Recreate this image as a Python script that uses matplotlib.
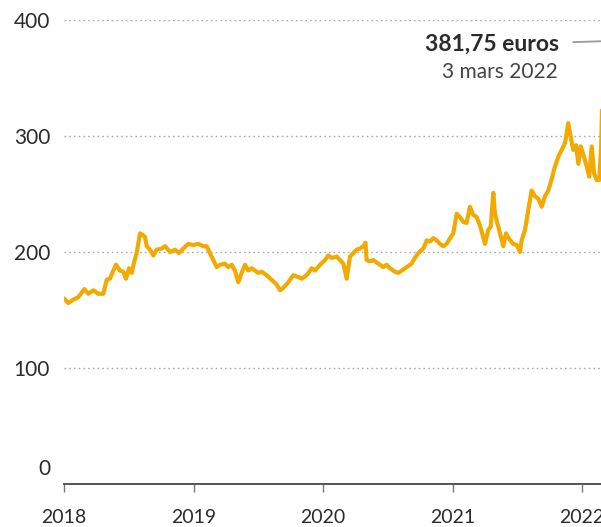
import matplotlib
matplotlib.use("Agg")
import matplotlib.pyplot as plt
import matplotlib.transforms as mtransforms
from matplotlib.ticker import FixedLocator

# Decimal-year dates and prices (euros per tonne)
dates = [
    2018.000, 2018.033, 2018.072, 2018.110, 2018.157, 2018.188, 2018.226, 2018.265,
    2018.303, 2018.330, 2018.355, 2018.381, 2018.402, 2018.432, 2018.458, 2018.479,
    2018.502, 2018.523, 2018.543, 2018.561, 2018.587, 2018.605, 2018.625, 2018.639,
    2018.664, 2018.690, 2018.716, 2018.754, 2018.780, 2018.819, 2018.857, 2018.888,
    2018.921, 2018.960, 2018.998, 2019.037, 2019.076, 2019.102, 2019.127, 2019.153,
    2019.179, 2019.205, 2019.243, 2019.269, 2019.295, 2019.320, 2019.346, 2019.372,
    2019.398, 2019.423, 2019.449, 2019.475, 2019.500, 2019.527, 2019.565, 2019.604,
    2019.642, 2019.668, 2019.693, 2019.732, 2019.771, 2019.797, 2019.835, 2019.874,
    2019.913, 2019.938, 2019.977, 2020.015, 2020.041, 2020.067, 2020.106, 2020.131,
    2020.157, 2020.183, 2020.208, 2020.234, 2020.260, 2020.286, 2020.311, 2020.328,
    2020.337, 2020.363, 2020.388, 2020.427, 2020.466, 2020.492, 2020.517, 2020.556,
    2020.581, 2020.608, 2020.646, 2020.685, 2020.710, 2020.736, 2020.775, 2020.801,
    2020.826, 2020.852, 2020.878, 2020.903, 2020.929, 2020.955, 2020.981, 2021.006,
    2021.032, 2021.058, 2021.083, 2021.109, 2021.135, 2021.160, 2021.187, 2021.212,
    2021.251, 2021.276, 2021.295, 2021.315, 2021.328, 2021.346, 2021.367, 2021.392,
    2021.413, 2021.439, 2021.469, 2021.496, 2021.521, 2021.534, 2021.560, 2021.585,
    2021.611, 2021.637, 2021.662, 2021.689, 2021.714, 2021.740, 2021.766, 2021.792,
    2021.817, 2021.843, 2021.869, 2021.894, 2021.913, 2021.933, 2021.954, 2021.972,
    2021.990, 2022.015, 2022.036, 2022.056, 2022.075, 2022.093, 2022.113, 2022.133,
    2022.148, 2022.158, 2022.168,
]
prices = [
    160, 156, 159, 161, 168, 164, 167, 164,
    164, 176, 177, 184, 189, 184, 183, 177,
    186, 182, 192, 199, 216, 215, 213, 205,
    202, 197, 202, 203, 205, 200, 202, 199,
    203, 207, 206, 207, 205, 205, 199, 193,
    187, 189, 190, 187, 189, 184, 174, 182,
    189, 184, 186, 184, 182, 183, 180, 176,
    172, 167, 169, 174, 180, 179, 177, 180,
    186, 184, 189, 193, 197, 195, 196, 193,
    190, 177, 196, 199, 202, 203, 205, 208,
    193, 192, 193, 190, 187, 189, 186, 183,
    182, 184, 187, 190, 195, 199, 203, 210,
    209, 212, 210, 207, 205, 207, 212, 216,
    233, 230, 226, 225, 239, 232, 230, 223,
    207, 219, 222, 251, 233, 225, 216, 205,
    216, 211, 207, 206, 200, 210, 219, 236,
    253, 248, 246, 239, 248, 253, 263, 274,
    282, 288, 294, 311, 299, 288, 292, 276,
    291, 282, 274, 265, 291, 268, 262, 262,
    290, 340, 381.75,
]

year_ticks = [2018, 2019, 2020, 2021, 2022]
year_labels = ["2018", "2019", "2020", "2021", "2022"]
value_ticks = [0, 100, 200, 300, 400]
value_labels = ["0", "100", "200", "300", "400"]
last_label = "381,75 euros"
last_date_label = "3 mars 2022"

LINE = "#F2A900"
TEXT = "#2b2b2b"

plt.rcParams["font.family"] = ["Lato", "DejaVu Sans"]

fig = plt.figure(figsize=(6.01, 5.27), dpi=100)
W, H = 601, 527
x0, x1 = 2018.0, 2022.5
px_per_year = 129.5
left = 64 / W
width = (x1 - x0) * px_per_year / W
bottom = (H - 484) / H
top = (H - 20) / H
ax = fig.add_axes([left, bottom, width, top - bottom])
ax.set_xlim(x0, x1)
ax.set_ylim(0, 400)

ax.plot(dates, prices, color=LINE, lw=3.0, solid_joinstyle="round",
        solid_capstyle="round", zorder=3)

for s in ["top", "right", "left"]:
    ax.spines[s].set_visible(False)
ax.spines["bottom"].set_color("#555555")
ax.spines["bottom"].set_linewidth(1.4)

ax.xaxis.set_major_locator(FixedLocator(year_ticks))
ax.set_xticklabels(year_labels)
ax.tick_params(axis="x", length=6, width=1, color="#777777", pad=12,
               labelsize=14, labelcolor=TEXT)

ax.yaxis.set_major_locator(FixedLocator(value_ticks))
ax.set_yticklabels(value_labels)
ax.tick_params(axis="y", length=0, pad=10, labelsize=15, labelcolor=TEXT)
ax.grid(axis="y", linestyle=(0, (1.2, 2.2)), color="#aaaaaa", lw=1.0, zorder=1)
# the zero gridline is the axis itself
ax.get_ygridlines()[0].set_visible(False)

# lift the "0" label above the baseline like the reference
zero_lbl = ax.get_yticklabels()[0]
zero_lbl.set_transform(zero_lbl.get_transform() +
                       mtransforms.ScaledTranslation(0, 17 / 100, fig.dpi_scale_trans))

# annotation of the last value
ax.annotate(last_label, xy=(dates[-1], prices[-1]), xytext=(-32, -2.5),
            textcoords="offset points", ha="right", va="center",
            fontsize=16.5, fontweight="bold", color=TEXT,
            arrowprops=dict(arrowstyle="-", color="#999999", lw=1.3,
                            shrinkA=8, shrinkB=0), zorder=4)
ax.annotate(last_date_label, xy=(dates[-1], prices[-1]), xytext=(-33, -22),
            textcoords="offset points", ha="right", va="center",
            fontsize=15, color="#444444", zorder=4)

fig.savefig("out.png", dpi=100)
